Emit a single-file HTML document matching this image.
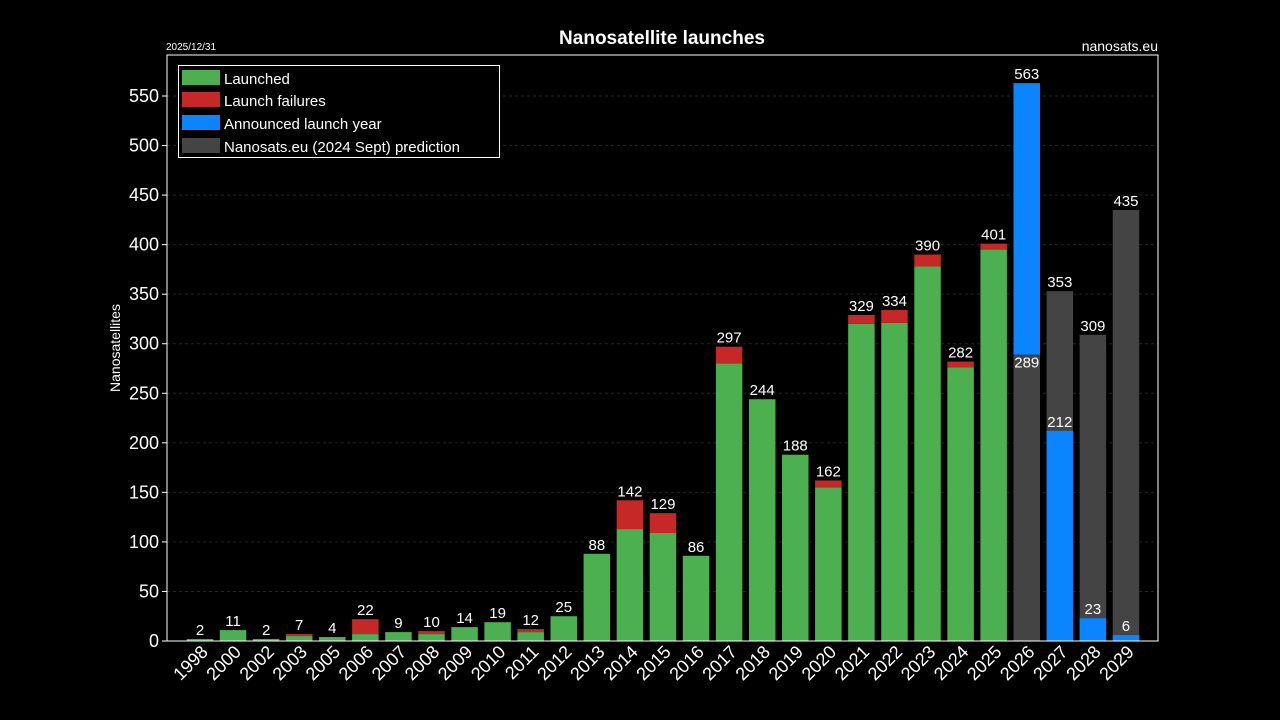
<!DOCTYPE html>
<html><head><meta charset="utf-8"><style>
html,body{margin:0;padding:0;background:#000;}
svg{display:block;font-family:"Liberation Sans",sans-serif;}
</style></head><body>
<svg id="s" width="1280" height="720" viewBox="0 0 1280 720" xmlns="http://www.w3.org/2000/svg">
<rect width="1280" height="720" fill="#000"/>
<text x="662" y="44" fill="#fff" font-size="19" font-weight="bold" text-anchor="middle">Nanosatellite launches</text>
<text x="166" y="50" fill="#fff" font-size="10">2025/12/31</text>
<text x="1158" y="51" fill="#fff" font-size="14" text-anchor="end">nanosats.eu</text>
<text transform="translate(120,348) rotate(-90)" fill="#fff" font-size="14" text-anchor="middle">Nanosatellites</text>
<g id="g"></g>
<rect x="167" y="55" width="991" height="586" fill="none" stroke="#fff" stroke-width="1"/>
<g font-size="15" fill="#fff">
<rect x="178.5" y="65.5" width="321" height="92" fill="#000" stroke="#fff"/>
<rect x="182" y="70" width="38" height="15" fill="#4caf50"/><text x="224" y="84">Launched</text>
<rect x="182" y="92" width="38" height="15" fill="#c62828"/><text x="224" y="106">Launch failures</text>
<rect x="182" y="115" width="38" height="15" fill="#0a84ff"/><text x="224" y="129">Announced launch year</text>
<rect x="182" y="138" width="38" height="15" fill="#444"/><text x="224" y="152">Nanosats.eu (2024 Sept) prediction</text>
</g>
</svg>
<script>
var d=[["1998",2,0],["2000",11,0],["2002",2,0],["2003",5,2],["2005",4,0],["2006",7,15],["2007",9,0],["2008",7,3],["2009",14,0],["2010",19,0],["2011",9,3],["2012",25,0],["2013",88,0],["2014",113,29],["2015",109,20],["2016",86,0],["2017",280,17],["2018",244,0],["2019",188,0],["2020",155,7],["2021",320,9],["2022",321,13],["2023",378,12],["2024",276,6],["2025",395,6]];
var Y=function(v){return 641-v*0.9909;};
var o='';
for(var v=0;v<=550;v+=50){var y=Y(v);
 if(v>0)o+='<line x1="167" x2="1158" y1="'+y+'" y2="'+y+'" stroke="#222" stroke-dasharray="3,3"/>';
 o+='<line x1="162" x2="167" y1="'+y+'" y2="'+y+'" stroke="#fff"/>';
 o+='<text x="159" y="'+(y+6)+'" fill="#fff" font-size="18" text-anchor="end">'+v+'</text>';}
var cx=function(i){return 200+i*33.07;};
var w=26.5;
function bar(x,a,b,c){o+='<rect x="'+(x-w/2)+'" y="'+Y(b)+'" width="'+w+'" height="'+(Y(a)-Y(b))+'" fill="'+c+'"/>';}
function lab(x,v,t,col){o+='<text x="'+x+'" y="'+(Y(v)-4)+'" fill="'+(col||'#fff')+'" font-size="15" text-anchor="middle">'+t+'</text>';}
function xl(x,t){o+='<text transform="translate('+(x+9)+',653) rotate(-45)" fill="#fff" font-size="18" text-anchor="end">'+t+'</text>';}
d.forEach(function(r,i){var x=cx(i);bar(x,0,r[1],'#4caf50');if(r[2])bar(x,r[1],r[1]+r[2],'#c62828');lab(x,r[1]+r[2],r[1]+r[2]);xl(x,r[0]);});
var x=cx(25);bar(x,0,289,'#444');bar(x,289,563,'#0a84ff');lab(x,563,563);o+='<text x="'+x+'" y="'+(Y(289)+13)+'" fill="#fff" font-size="15" text-anchor="middle">289</text>';xl(x,'2026');
var p=[["2027",353,212],["2028",309,23],["2029",435,6]];
p.forEach(function(r,j){var x=cx(26+j);bar(x,0,r[1],'#444');bar(x,0,r[2],'#0a84ff');lab(x,r[1],r[1]);lab(x,r[2],r[2]);xl(x,r[0]);});
document.getElementById('g').innerHTML=o;
</script>
</body></html>
